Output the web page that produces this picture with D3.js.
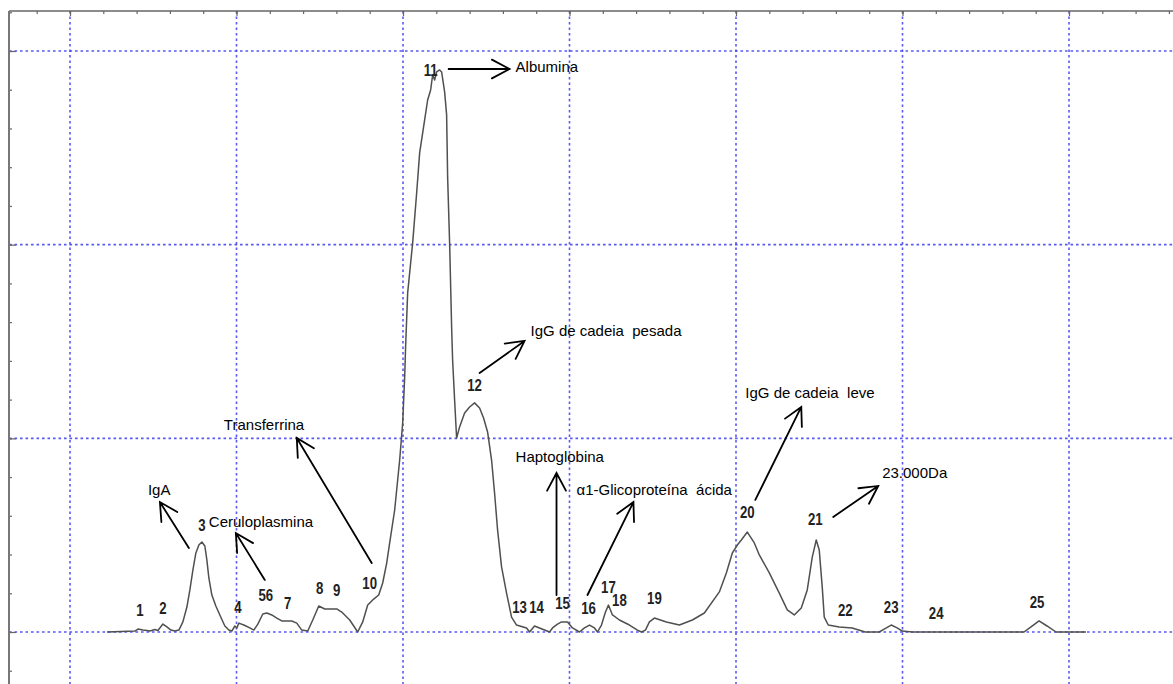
<!DOCTYPE html>
<html>
<head>
<meta charset="utf-8">
<script src="https://cdn.jsdelivr.net/npm/d3@7"></script>
<style>
  html, body { margin: 0; padding: 0; background: #fff; }
  svg { display: block; }
  text { font-family: "Liberation Sans", Arial, sans-serif; }
</style>
</head>
<body>
<svg id="chart" width="1173" height="684"></svg>
<script>
// ---------- DATA ----------
// Densitometric scan position (arbitrary units) and optical density (arbitrary units)
const scanPos = [22.2, 39.0, 40.8, 43.8, 46.2, 48.0, 51.0, 52.8, 55.8, 58.2, 60.6, 63.0, 65.4, 67.8, 70.2, 72.0, 73.8, 75.6, 77.4, 79.2, 81.0, 82.2, 83.4, 85.2, 87.6, 90.0, 93.0, 95.4, 97.2, 99.0, 100.2, 101.4, 104.4, 108.0, 110.4, 112.8, 115.8, 118.2, 121.2, 124.2, 127.2, 133.2, 136.2, 139.2, 142.8, 145.8, 149.4, 153.0, 160.2, 163.2, 168.0, 172.8, 175.8, 178.8, 182.4, 185.4, 187.8, 190.2, 192.0, 195.0, 198.0, 199.8, 201.0, 201.6, 202.8, 205.8, 208.2, 210.0, 213.0, 214.8, 216.6, 217.8, 219.0, 220.2, 222.0, 223.2, 225.0, 226.2, 226.8, 228.0, 229.2, 229.8, 231.0, 232.2, 234.0, 237.0, 240.0, 243.0, 246.0, 248.4, 250.8, 253.2, 255.0, 256.8, 259.2, 262.2, 265.2, 268.2, 274.2, 276.0, 279.0, 282.0, 288.0, 289.8, 292.8, 295.2, 298.8, 301.8, 306.0, 309.0, 312.0, 315.0, 316.8, 319.2, 321.6, 323.4, 325.8, 330.0, 336.0, 340.8, 343.2, 345.6, 348.0, 351.0, 358.2, 366.0, 373.8, 381.0, 390.0, 394.2, 397.8, 400.8, 403.2, 406.8, 411.0, 414.0, 420.0, 426.0, 430.8, 435.0, 439.2, 442.8, 445.8, 448.2, 450.0, 451.8, 453.0, 455.4, 462.0, 469.8, 477.6, 486.0, 489.0, 493.2, 496.8, 499.8, 505.8, 573.0, 577.2, 582.0, 586.8, 592.2, 610.2];
const density = [0, 0.5, 1.5, 1.0, 0.8, 0.5, 1.3, 0.8, 4.1, 2.6, 1.0, 0.5, 1.0, 5.2, 12.9, 21.7, 32.0, 40.8, 44.9, 46.5, 44.4, 37.2, 27.9, 19.1, 13.4, 8.8, 3.1, 1.0, 0.5, 3.1, 2.1, 4.6, 3.6, 2.1, 1.0, 4.1, 9.3, 9.8, 8.8, 7.2, 5.7, 5.7, 4.6, 1.0, 0.5, 6.2, 13.4, 11.9, 11.9, 10.3, 6.2, 0, 5.2, 13.9, 17.0, 19.1, 25.3, 35.6, 46.0, 63.0, 88.8, 107.9, 131.7, 148.2, 175.1, 200.9, 226.7, 247.4, 264.4, 274.7, 279.9, 287.6, 285.0, 289.2, 290.2, 289.2, 278.9, 267.0, 235.0, 200.9, 157.5, 140.5, 119.8, 100.2, 105.9, 113.1, 116.2, 118.3, 115.7, 110.5, 103.3, 88.8, 71.8, 52.7, 33.6, 20.1, 7.7, 3.6, 2.1, 0, 3.1, 2.1, 0, 2.1, 4.1, 5.2, 5.2, 2.1, 0, 2.1, 3.6, 2.1, 0, 3.6, 10.3, 13.9, 8.8, 6.2, 3.6, 1.0, 0, 1.0, 5.2, 7.2, 5.2, 3.6, 6.2, 9.8, 20.7, 30.5, 40.8, 44.9, 47.5, 51.6, 46.0, 39.8, 30.5, 20.1, 11.4, 8.8, 12.4, 21.7, 38.7, 47.5, 42.3, 23.2, 7.7, 3.6, 2.6, 2.1, 0, 0, 1.5, 3.6, 2.1, 0.5, 0, 0, 2.6, 5.7, 3.1, 0, 0];

// Peak numbers
const peakIds = ["1","2","3","4","56","7","8","9","10","11","12","13","14","15","16","17","18","19","20","21","22","23","24","25"];
const peakLabelX = [42, 55.8, 79.2, 100.8, 117.6, 130.8, 150, 160.2, 180, 216.6, 243, 270, 280.2, 295.8, 311.4, 323.4, 330, 351, 406.8, 447.6, 465.6, 493.2, 520.2, 580.8];
const peakLabelY = [8.3, 9.3, 52.2, 9.8, 16.0, 11.9, 19.6, 18.6, 22.2, 287.1, 124.5, 9.8, 9.8, 11.9, 9.3, 20.1, 13.4, 14.5, 58.9, 55.3, 8.3, 9.8, 6.7, 12.4];

// Protein annotations
const protNames = ["Albumina", "IgG de cadeia  pesada", "Transferrina", "IgA", "Ceruloplasmina", "Haptoglobina", "\u03B11-Glicoproteína  ácida", "IgG de cadeia  leve", "23.000Da"];
const protTextX = [267.6, 276.6, 92.4, 46.8, 83.4, 267.6, 304.2, 405.6, 487.8];
const protTextY = [289.2, 152.9, 104.3, 70.7, 54.2, 87.8, 70.7, 120.8, 79.5];
const arrowFromX = [227.4, 246, 181.2, 71.4, 117, 292.2, 310.8, 411.6, 458.4];
const arrowFromY = [290.7, 133.7, 35.6, 43.4, 26.9, 19.1, 19.1, 68.2, 59.4];
const arrowToX = [264, 273, 136.2, 54, 99.6, 292.2, 338.4, 439.2, 485.4];
const arrowToY = [290.7, 150.3, 100.2, 67.1, 51.1, 82.1, 67.1, 116.2, 75.4];

// Axis ticks
const xMinorTicks = d3.range(-20, 661, 20);
const xMajorTicks = [0, 100, 200, 300, 400, 500, 600];
const yMinorTicks = d3.range(-20, 321, 20);
const yMajorTicks = [0, 100, 200, 300];

// ---------- CHART ----------
const W = 1173, H = 684;
const svg = d3.select("#chart");
const x = d3.scaleLinear().domain([0, 600]).range([70, 1069]);
const y = d3.scaleLinear().domain([0, 300]).range([632, 51]);
const leftX = 9, topY = 11;

// grid
const gridColor = "#3d3df2";
svg.append("g").selectAll("line").data(xMajorTicks).join("line")
  .attr("x1", d => x(d)).attr("x2", d => x(d))
  .attr("y1", topY).attr("y2", H)
  .attr("stroke", gridColor).attr("stroke-width", 1.6)
  .attr("stroke-dasharray", "2.6,2.9").attr("opacity", 0.85);
svg.append("g").selectAll("line").data(yMajorTicks).join("line")
  .attr("y1", d => y(d)).attr("y2", d => y(d))
  .attr("x1", leftX).attr("x2", W)
  .attr("stroke", gridColor).attr("stroke-width", 1.6)
  .attr("stroke-dasharray", "2.6,2.9").attr("opacity", 0.85);

// axes (top and left, ticks pointing inward)
const axisColor = "#666";
function styleAxis(g) {
  g.select(".domain").remove();
  g.selectAll("text").remove();
  g.selectAll("line").attr("stroke", axisColor).attr("stroke-width", 1.2);
}
svg.append("g").attr("transform", `translate(0,${topY})`)
  .call(d3.axisTop(x).tickValues(xMinorTicks).tickSize(-3)).call(styleAxis);
svg.append("g").attr("transform", `translate(0,${topY})`)
  .call(d3.axisTop(x).tickValues(xMajorTicks).tickSize(-5)).call(styleAxis);
svg.append("g").attr("transform", `translate(${leftX},0)`)
  .call(d3.axisLeft(y).tickValues(yMinorTicks).tickSize(-3)).call(styleAxis);
svg.append("g").attr("transform", `translate(${leftX},0)`)
  .call(d3.axisLeft(y).tickValues(yMajorTicks).tickSize(-7)).call(styleAxis);
svg.append("line").attr("x1", leftX).attr("x2", W).attr("y1", topY).attr("y2", topY)
  .attr("stroke", axisColor).attr("stroke-width", 1.6);
svg.append("line").attr("x1", leftX).attr("x2", leftX).attr("y1", topY).attr("y2", H)
  .attr("stroke", "#777").attr("stroke-width", 2);

// trace
const pts = scanPos.map((p, i) => [p, density[i]]);
svg.append("path").datum(pts)
  .attr("d", d3.line().x(d => x(d[0])).y(d => y(d[1])))
  .attr("fill", "none").attr("stroke", "#505050").attr("stroke-width", 1.5)
  .attr("stroke-linejoin", "round");

// peak numbers
svg.append("g").selectAll("text").data(peakIds).join("text")
  .attr("transform", (d, i) => `translate(${x(peakLabelX[i])},${y(peakLabelY[i])}) scale(0.8,1)`)
  .attr("text-anchor", "middle")
  .attr("font-size", 16.5).attr("font-weight", "bold").attr("fill", "#222")
  .text(d => d);

// arrows
const headLen = 20, headAng = 28 * Math.PI / 180;
const arrows = svg.append("g").attr("stroke", "#000").attr("stroke-width", 1.8)
  .attr("fill", "none").attr("stroke-linecap", "round");
protNames.forEach((n, i) => {
  const x0 = x(arrowFromX[i]), y0 = y(arrowFromY[i]);
  const x1 = x(arrowToX[i]), y1 = y(arrowToY[i]);
  const a = Math.atan2(y1 - y0, x1 - x0);
  const p = d3.path();
  p.moveTo(x0, y0); p.lineTo(x1, y1);
  p.moveTo(x1 - headLen * Math.cos(a - headAng), y1 - headLen * Math.sin(a - headAng));
  p.lineTo(x1, y1);
  p.lineTo(x1 - headLen * Math.cos(a + headAng), y1 - headLen * Math.sin(a + headAng));
  arrows.append("path").attr("d", p.toString());
});

// protein names
svg.append("g").selectAll("text").data(protNames).join("text")
  .attr("x", (d, i) => x(protTextX[i])).attr("y", (d, i) => y(protTextY[i]))
  .attr("font-size", 15).attr("fill", "#000")
  .style("white-space", "pre")
  .text(d => d);
</script>
</body>
</html>
